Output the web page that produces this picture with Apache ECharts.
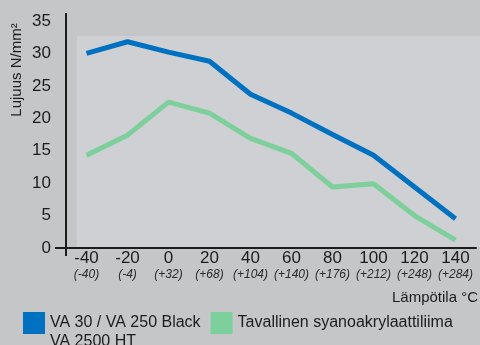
<!DOCTYPE html>
<html>
<head>
<meta charset="utf-8">
<script src="https://cdn.jsdelivr.net/npm/echarts@6/dist/echarts.min.js"></script>
<style>
    html, body { margin: 0; padding: 0; }
    #chart { width: 480px; height: 345px; }
</style>
</head>
<body>
<div id="chart"></div>
<script>
// lämpötila-akseli (°C) ja vastaavat °F arvot
var tempC = ['-40', '-20', '0', '20', '40', '60', '80', '100', '120', '140'];
var tempF = ['(-40)', '(-4)', '(+32)', '(+68)', '(+104)', '(+140)', '(+176)', '(+212)', '(+248)', '(+284)'];

// lujuus N/mm2
var vaBlack = [30.0, 31.8, 30.2, 28.8, 23.7, 20.8, 17.5, 14.3, 9.4, 4.5];
var tavallinen = [14.3, 17.4, 22.5, 20.8, 16.9, 14.6, 9.4, 9.9, 5.0, 1.2];

var nameBlack = 'VA 30 / VA 250 Black\nVA 2500 HT';
var nameTav = 'Tavallinen syanoakrylaattiliima';

var font = '"Liberation Sans", Arial, sans-serif';
var textColor = '#1c1c1c';

var myChart = echarts.init(document.getElementById('chart'));

var option = {
    backgroundColor: '#c5c6c8',
    textStyle: { fontFamily: font },
    grid: {
        left: 66,
        right: 4,
        top: 21,
        bottom: 97
    },
    graphic: [
        {
            // vaaleampi taustapaneeli
            type: 'rect',
            z: -1,
            shape: { x: 77, y: 36, width: 403, height: 211 },
            style: { fill: '#ced0d3' }
        },
        {
            type: 'line',
            shape: { x1: 66, y1: 13, x2: 66, y2: 256 },
            style: { stroke: textColor, lineWidth: 2 }
        },
        {
            type: 'line',
            shape: { x1: 55, y1: 248, x2: 67, y2: 248 },
            style: { stroke: textColor, lineWidth: 2 }
        },
        {
            type: 'text',
            x: 17,
            y: 70,
            rotation: Math.PI / 2,
            style: {
                text: 'Lujuus N/mm²',
                font: '15px ' + font,
                fill: textColor,
                align: 'center',
                verticalAlign: 'middle'
            }
        },
        {
            type: 'text',
            x: 478,
            y: 298,
            style: {
                text: 'Lämpötila °C',
                font: '15px ' + font,
                fill: textColor,
                align: 'right',
                verticalAlign: 'middle'
            }
        }
    ],
    legend: {
        left: 23,
        top: 294.5,
        padding: 0,
        itemWidth: 22,
        itemHeight: 22,
        itemGap: 10,
        icon: 'rect',
        textStyle: {
            fontSize: 16,
            color: textColor,
            lineHeight: 19
        },
        formatter: function (name) {
            // ensimmäinen rivi kuvakkeen kohdalle, toinen sen alle
            return name === nameBlack ? '\n' + name : name;
        },
        data: [nameBlack, nameTav]
    },
    xAxis: {
        type: 'category',
        data: tempC,
        boundaryGap: true,
        axisLine: { lineStyle: { color: textColor, width: 2 } },
        axisTick: { length: 7, lineStyle: { color: textColor, width: 2 } },
        axisLabel: {
            margin: 1,
            interval: 0,
            formatter: function (value, idx) {
                return '{a|' + value + '}\n{b|' + tempF[idx] + '}';
            },
            rich: {
                a: { fontSize: 17, color: textColor, lineHeight: 18 },
                b: { fontSize: 12, fontStyle: 'italic', color: '#2a2a2a', lineHeight: 16 }
            }
        }
    },
    yAxis: {
        type: 'value',
        min: 0,
        max: 35,
        interval: 5,
        axisLine: { show: true, lineStyle: { color: textColor, width: 2 } },
        axisTick: { show: false },
        splitLine: { show: false },
        axisLabel: { fontSize: 17, color: textColor, margin: 15 }
    },
    series: [
        {
            name: nameBlack,
            type: 'line',
            data: vaBlack,
            symbol: 'none',
            color: '#0070c0',
            lineStyle: { width: 5 }
        },
        {
            name: nameTav,
            type: 'line',
            data: tavallinen,
            symbol: 'none',
            color: '#7dcf9b',
            lineStyle: { width: 5 }
        }
    ]
};
myChart.setOption(option);
</script>
</body>
</html>
